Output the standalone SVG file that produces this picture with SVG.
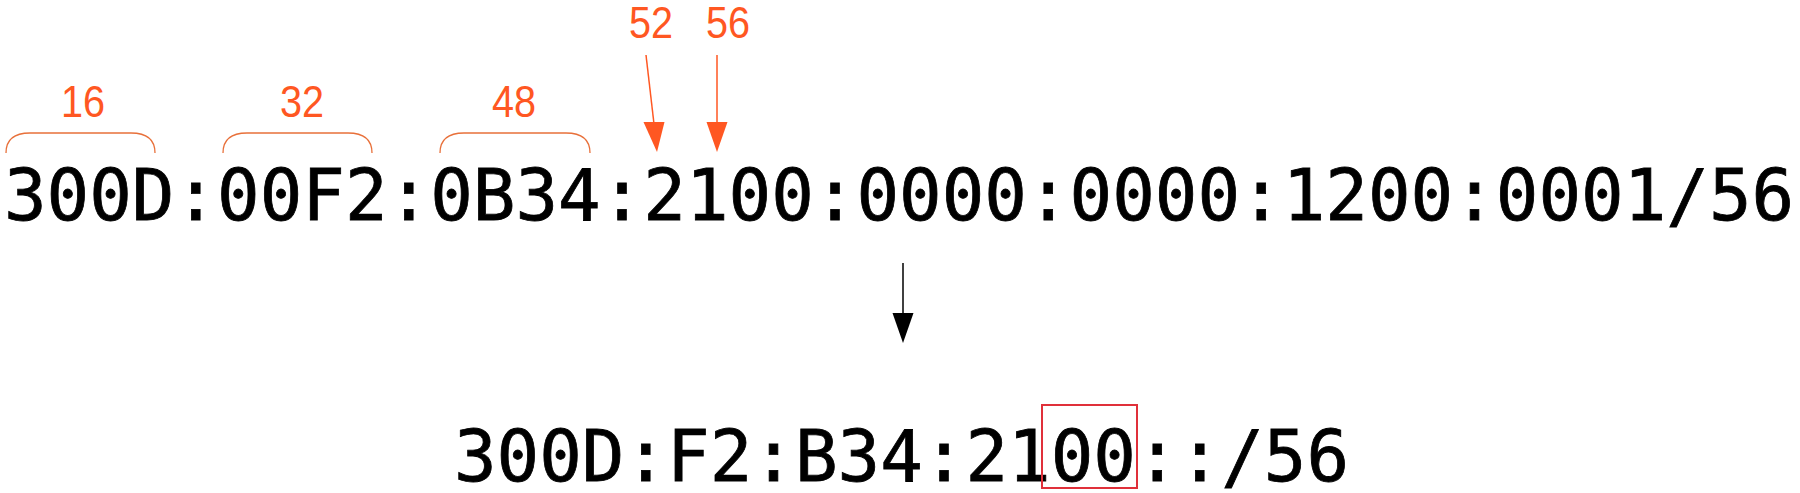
<svg xmlns="http://www.w3.org/2000/svg" width="1800" height="493" viewBox="0 0 1800 493">
<style>
.addr{font-family:"DejaVu Sans Mono",monospace;font-size:70.8px;fill:#000;stroke:#000;stroke-width:0.8}
.lbl{font-family:"Liberation Sans",Arial,sans-serif;font-size:45px;fill:#ff5722;text-anchor:middle}
.brace{fill:none;stroke:#e8703a;stroke-width:1.3}
.oline{stroke:#ff5722;stroke-width:1.5;fill:none}
.bline{stroke:#000;stroke-width:1.5;fill:none}
</style>
<rect width="1800" height="493" fill="#fff"/>
<g id="full-address">
<text class="addr" x="4" y="220">300D:00F2:0B34:2100:0000:0000:1200:0001/56</text>
</g>
<g id="bit-labels">
<g id="b16"><path class="brace" d="M6,153 C6,138 16,133 30,133 L131,133 C145,133 155,138 155,153"/><text class="lbl" transform="translate(83,117) scale(0.88,1)">16</text></g>
<g id="b32"><path class="brace" d="M223,153 C223,138 233,133 247,133 L348,133 C362,133 372,138 372,153"/><text class="lbl" transform="translate(302,117) scale(0.88,1)">32</text></g>
<g id="b48"><path class="brace" d="M440,153 C440,138 450,133 464,133 L566,133 C580,133 590,138 590,153"/><text class="lbl" transform="translate(514,117) scale(0.88,1)">48</text></g>
<g id="l52"><text class="lbl" transform="translate(651,38) scale(0.88,1)">52</text></g>
<g id="l56"><text class="lbl" transform="translate(728,38) scale(0.88,1)">56</text></g>
</g>
<g id="connectors">
<line class="oline" x1="646" y1="55" x2="654" y2="124"/>
<path d="M643.5,122 L664.5,122 L657,152 Z" fill="#ff5722"/>
<line class="oline" x1="717" y1="55" x2="717" y2="124"/>
<path d="M706.5,122 L727.5,122 L717,152 Z" fill="#ff5722"/>
<line class="bline" x1="903" y1="263" x2="903" y2="315"/>
<path d="M892.5,313 L913.5,313 L903,343 Z" fill="#000"/>
</g>
<g id="short-address">
<text class="addr" x="454" y="481">300D:F2:B34:2100::/56</text>
<rect x="1042" y="405" width="95" height="83" fill="none" stroke="#e0303a" stroke-width="2"/>
</g>
</svg>
